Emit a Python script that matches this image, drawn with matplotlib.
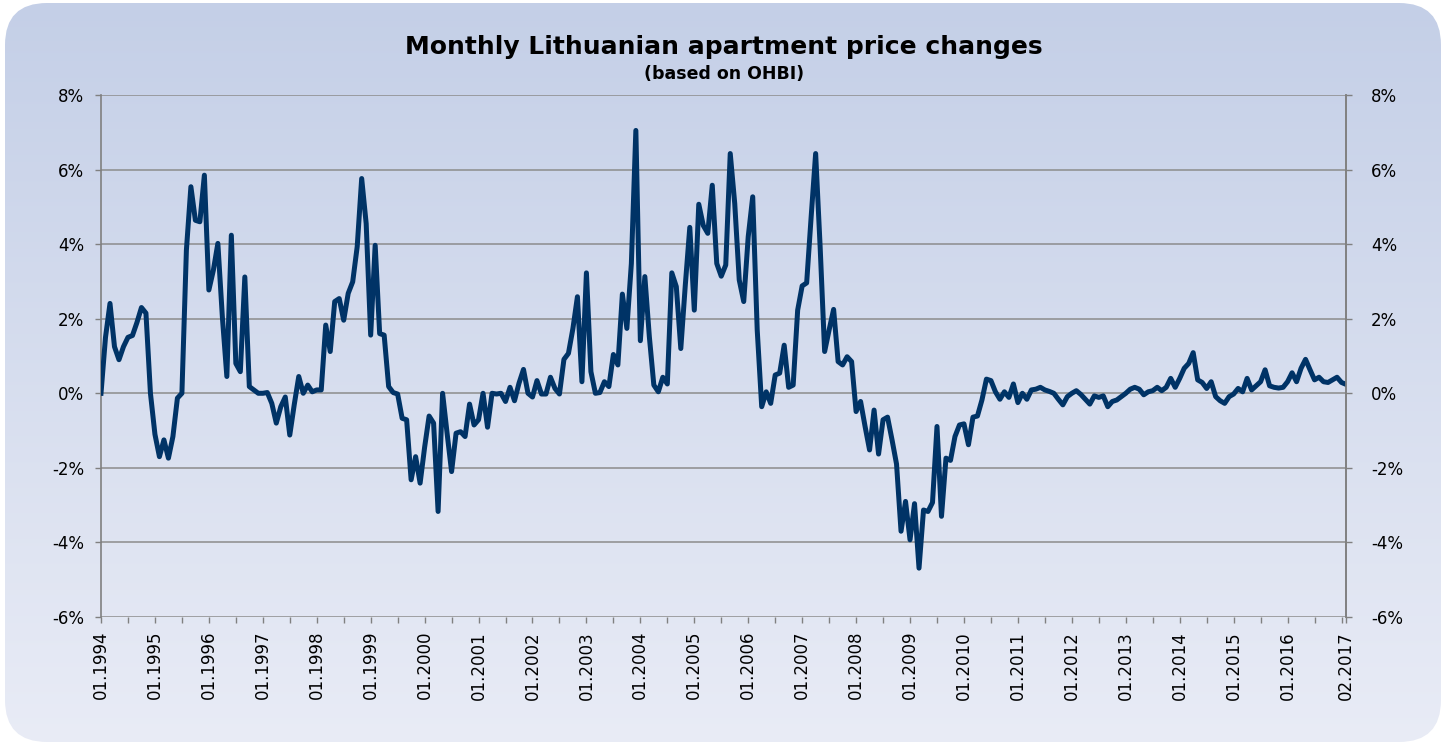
import numpy as np
import matplotlib
matplotlib.use("Agg")
import matplotlib.pyplot as plt
from matplotlib.patches import FancyBboxPatch
from matplotlib.ticker import FuncFormatter

# monthly change, % (01.1994 .. 02.2017)
cambios = [
    0.0, 1.5, 2.41, 1.25, 0.9, 1.25, 1.5, 1.55, 1.9, 2.3, 2.15, 0.0,
    -1.1, -1.7, -1.25, -1.74, -1.16, -0.13, 0.0, 3.84, 5.54, 4.64, 4.6, 5.85,
    2.77, 3.3, 4.02, 2.05, 0.45, 4.24, 0.8, 0.58, 3.12, 0.18, 0.09, 0.0,
    0.0, 0.02, -0.27, -0.8, -0.36, -0.1, -1.12, -0.3, 0.45, 0.0, 0.22, 0.04,
    0.09, 0.09, 1.83, 1.12, 2.46, 2.54, 1.96, 2.68, 2.99, 3.93, 5.76, 4.55,
    1.56, 3.97, 1.6, 1.56, 0.18, 0.02, -0.02, -0.67, -0.71, -2.32, -1.7, -2.41,
    -1.45, -0.61, -0.8, -3.17, 0.0, -1.07, -2.1, -1.07, -1.03, -1.16, -0.29, -0.85,
    -0.71, 0.0, -0.91, 0.0, -0.02, 0.0, -0.22, 0.16, -0.2, 0.27, 0.64, 0.0,
    -0.1, 0.34, -0.02, -0.02, 0.43, 0.13, -0.02, 0.91, 1.07, 1.74, 2.59, 0.31,
    3.23, 0.58, 0.0, 0.02, 0.31, 0.18, 1.04, 0.76, 2.66, 1.74, 3.48, 7.05,
    1.41, 3.13, 1.52, 0.22, 0.04, 0.43, 0.25, 3.23, 2.86, 1.2, 2.9, 4.45,
    2.23, 5.07, 4.5, 4.29, 5.58, 3.48, 3.14, 3.44, 6.43, 5.09, 3.04, 2.46,
    4.2, 5.27, 1.7, -0.36, 0.04, -0.27, 0.49, 0.54, 1.29, 0.16, 0.22, 2.23,
    2.88, 2.96, 4.73, 6.43, 3.93, 1.12, 1.7, 2.25, 0.85, 0.76, 0.98, 0.85,
    -0.49, -0.22, -0.89, -1.52, -0.45, -1.63, -0.71, -0.64, -1.25, -1.9, -3.7, -2.9,
    -3.93, -2.96, -4.69, -3.13, -3.17, -2.93, -0.89, -3.3, -1.74, -1.8, -1.16, -0.85,
    -0.82, -1.38, -0.64, -0.61, -0.18, 0.38, 0.34, 0.04, -0.16, 0.04, -0.11, 0.25,
    -0.25, 0.0, -0.16, 0.09, 0.11, 0.16, 0.09, 0.05, 0.0, -0.16, -0.31, -0.09,
    0.0, 0.07, -0.03, -0.16, -0.29, -0.07, -0.11, -0.07, -0.36, -0.22, -0.18, -0.09,
    0.0, 0.11, 0.16, 0.11, -0.04, 0.04, 0.07, 0.16, 0.07, 0.16, 0.4, 0.16,
    0.4, 0.67, 0.8, 1.09, 0.36, 0.29, 0.13, 0.31, -0.09, -0.2, -0.27, -0.09,
    -0.02, 0.13, 0.04, 0.4, 0.09, 0.2, 0.31, 0.63, 0.2, 0.16, 0.14, 0.16,
    0.31, 0.55, 0.31, 0.67, 0.91, 0.63, 0.36, 0.43, 0.31, 0.29, 0.36, 0.43,
    0.29, 0.24,
]
anio_inicio = 1994
etiquetas_y = [-6, -4, -2, 0, 2, 4, 6, 8]

n = len(cambios)
meses = np.arange(n)
# etiquetas anuales (enero) hasta 2016, luego el ultimo mes
pos_x = list(range(0, n - 12, 12))
etiquetas_x = [f"01.{anio_inicio + k // 12}" for k in pos_x]
pos_x.append(n - 1)
etiquetas_x.append(f"{(n - 1) % 12 + 1:02d}.{anio_inicio + (n - 1) // 12}")
marcas_menores = [k for k in range(0, n, 6) if k not in pos_x]

W, H = 1448, 745
fig = plt.figure(figsize=(W / 100, H / 100), dpi=100)
fig.patch.set_facecolor("white")

# fondo redondeado con degradado
fondo = fig.add_axes([0, 0, 1, 1])
fondo.set_xlim(0, W)
fondo.set_ylim(0, H)
fondo.axis("off")
arriba = np.array([196, 207, 231]) / 255
abajo = np.array([233, 236, 246]) / 255
t = np.linspace(0, 1, 256)[:, None]
grad = (arriba * (1 - t) + abajo * t)[:, None, :]
grad = np.repeat(grad, 2, axis=1)
im = fondo.imshow(grad, extent=[0, W, 0, H], aspect="auto", origin="upper", zorder=0)
caja = FancyBboxPatch((5, 3), W - 12, H - 6,
                      boxstyle="round,pad=0,rounding_size=42",
                      transform=fondo.transData, facecolor="none", edgecolor="none")
fondo.add_patch(caja)
im.set_clip_path(caja)

ax = fig.add_axes([101 / W, (H - 617) / H, (1346 - 101) / W, (617 - 95) / H])
ax.patch.set_alpha(0)
ax.plot(meses, cambios, color="#003366", linewidth=3.6, solid_joinstyle="round", zorder=3)

ax.set_xlim(0, n - 1)
ax.set_ylim(-6, 8)
ax.set_yticks(etiquetas_y)
ax.yaxis.set_major_formatter(FuncFormatter(lambda v, p: f"{v:.0f}%"))
ax.grid(axis="y", color="#8c8c8c", linewidth=1.1)
ax.set_axisbelow(True)

ax.set_xticks(pos_x)
ax.set_xticklabels(etiquetas_x, rotation=90, fontsize=12)
ax.set_xticks(marcas_menores, minor=True)
ax.tick_params(axis="x", which="both", length=4, color="#808080", width=1, pad=6)
ax.tick_params(axis="y", length=4, color="#808080", width=1, labelsize=12, pad=8)

for lado in ["left", "right"]:
    ax.spines[lado].set_color("#808080")
    ax.spines[lado].set_linewidth(1.2)
for lado in ["top", "bottom"]:
    ax.spines[lado].set_visible(False)

ax2 = ax.twinx()
ax2.set_ylim(-6, 8)
ax2.set_yticks(etiquetas_y)
ax2.yaxis.set_major_formatter(FuncFormatter(lambda v, p: f"{v:.0f}%"))
ax2.tick_params(axis="y", length=4, color="#808080", width=1, labelsize=12, pad=14)
for lado in ["left", "top", "bottom"]:
    ax2.spines[lado].set_visible(False)
ax2.spines["right"].set_color("#808080")
ax2.spines["right"].set_linewidth(1.2)

fig.text(0.5, 1 - 47 / H, "Monthly Lithuanian apartment price changes",
         ha="center", va="center", fontsize=18, fontweight="bold")
fig.text(0.5, 1 - 74 / H, "(based on OHBI)",
         ha="center", va="center", fontsize=12.5, fontweight="bold")

fig.savefig("out.png", dpi=100)
